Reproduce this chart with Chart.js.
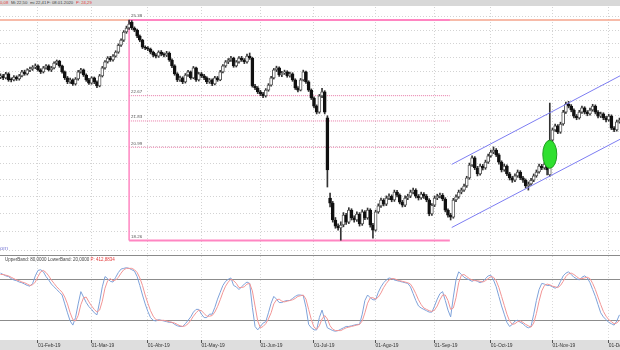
<!DOCTYPE html>
<html><head><meta charset="utf-8">
<script src="https://cdn.jsdelivr.net/npm/chart.js@4.4.1/dist/chart.umd.min.js"></script>
<style>
html,body{margin:0;padding:0;background:#fff;width:620px;height:350px;overflow:hidden;font-family:"Liberation Sans",Arial,sans-serif;}
#hdr{position:absolute;left:0;top:0;width:620px;height:6px;background:#d8d8d8;}
#xband{position:absolute;left:0;top:340px;width:620px;height:10px;background:#dedede;}
#sep{position:absolute;left:0;top:255px;width:620px;height:1px;background:#8a8a8a;}
canvas{position:absolute;left:0;}
#main{top:7px;}
#sub{top:256px;}
.t{position:absolute;white-space:nowrap;line-height:1;transform:scale(0.5);transform-origin:0 0;color:#444;font-size:8.5px;}
.r{color:#e23a3a;}
</style></head>
<body>
<div id="hdr"></div>
<div id="xband"></div>
<canvas id="main" width="620" height="248"></canvas>
<canvas id="sub" width="620" height="94"></canvas>
<div id="sep"></div>
<div class="t r" style="left:0;top:0.3px">0,08</div>
<div class="t" style="left:11px;top:0.3px">Mi 22,50</div>
<div class="t" style="left:30px;top:0.3px">mi 22,41</div>
<div class="t" style="left:47px;top:0.3px">F: 08.01.2020</div>
<div class="t r" style="left:76px;top:0.3px">P: 24,29</div>
<div class="t" style="left:0;top:244.5px;font-size:11.5px;color:#7b7bd6">om</div>
<div class="t" style="left:5px;top:256.5px;font-size:9px">UpperBand: 80,0000 LowerBand: 20,0000 <span class="r">P: 412,8834</span></div>
<script>
// ---- data ----
const monthIdx = [14,34,55,75,97,117,140,162,183,206,227];
const monthLabels = ['01-Feb-19','01-Mar-19','01-Abr-19','01-May-19','01-Jun-19','01-Jul-19','01-Ago-19','01-Sep-19','01-Oct-19','01-Nov-19','01-Dec-19'];

const opens = [
23.30,23.35,23.28,23.42,23.24,23.21,23.31,23.24,23.35,23.49,
23.42,23.56,23.59,23.66,23.70,23.56,23.49,23.63,23.70,23.56,
23.63,23.80,23.87,23.70,23.49,23.28,23.14,23.21,23.07,23.24,
23.49,23.56,23.38,23.21,23.10,23.28,23.14,23.00,23.35,23.63,
23.84,23.98,23.91,24.05,24.19,24.44,24.63,24.93,25.08,25.30,
25.08,25.00,24.78,24.63,24.37,24.34,24.30,24.19,24.08,24.05,
24.19,24.12,24.08,24.16,23.91,23.70,23.42,23.21,23.28,23.14,
23.38,23.49,23.28,23.63,23.21,23.42,23.35,23.28,23.14,23.21,
23.07,23.28,23.21,23.49,23.70,23.84,23.91,23.98,23.70,23.84,
23.98,23.91,23.84,24.05,23.98,23.00,22.93,22.80,22.73,22.66,
22.86,23.03,23.28,23.56,23.63,23.38,23.45,23.49,23.35,23.42,
23.21,22.93,22.86,23.21,23.49,23.14,22.86,22.59,22.32,22.12,
22.66,22.80,21.93,19.46,19.31,18.83,18.66,18.61,18.69,18.97,
18.77,19.11,18.89,18.83,19.00,18.72,19.06,18.89,19.11,18.69,
18.55,19.06,19.23,19.40,19.28,19.46,19.51,19.40,19.63,19.54,
19.34,19.25,19.46,19.51,19.63,19.69,19.51,19.46,19.57,19.51,
19.40,19.00,19.25,19.46,19.51,19.54,19.43,19.11,18.97,18.91,
19.40,19.49,19.63,19.69,19.81,20.05,20.44,20.66,20.35,20.17,
20.41,20.35,20.53,20.72,20.84,20.90,20.75,20.53,20.29,20.41,
20.17,20.05,19.98,20.11,20.23,20.05,19.98,19.81,19.87,19.98,
20.11,20.23,20.41,20.35,20.47,20.14,21.21,21.54,21.67,21.47,
21.73,22.12,22.39,22.32,22.19,21.99,21.93,22.12,22.26,22.12,
22.06,22.19,22.32,22.12,21.99,22.06,21.93,21.86,21.99,21.60,
21.54,21.80];

const highs = [
23.42,23.40,23.47,23.46,23.28,23.36,23.35,23.40,23.54,23.55,
23.60,23.66,23.71,23.77,23.74,23.60,23.68,23.75,23.74,23.68,
23.84,23.91,23.90,23.73,23.52,23.33,23.27,23.25,23.29,23.54,
23.61,23.59,23.42,23.26,23.32,23.31,23.18,23.40,23.68,23.89,
24.03,24.04,24.10,24.24,24.49,24.68,24.98,25.15,25.38,25.36,
25.12,25.04,24.82,24.66,24.42,24.39,24.34,24.23,24.14,24.24,
24.25,24.17,24.22,24.20,23.95,23.74,23.46,23.34,23.32,23.43,
23.54,23.52,23.68,23.66,23.47,23.47,23.40,23.32,23.26,23.25,
23.33,23.33,23.54,23.75,23.89,23.96,24.04,24.01,23.89,24.03,
24.04,23.96,24.12,24.16,24.01,23.06,22.98,22.85,22.78,22.91,
23.08,23.33,23.61,23.69,23.67,23.51,23.55,23.53,23.48,23.46,
23.25,22.98,23.26,23.55,23.52,23.18,22.90,22.63,22.36,22.71,
22.92,22.84,22.00,19.60,19.36,18.90,18.72,18.78,19.04,19.02,
19.18,19.15,18.95,19.06,19.04,19.12,19.10,19.17,19.15,18.74,
19.11,19.29,19.46,19.44,19.52,19.58,19.55,19.69,19.68,19.58,
19.39,19.52,19.57,19.69,19.75,19.73,19.56,19.63,19.62,19.56,
19.44,19.30,19.52,19.57,19.60,19.59,19.47,19.15,19.02,19.45,
19.55,19.69,19.75,19.87,20.10,20.50,20.72,20.70,20.40,20.47,
20.46,20.59,20.78,20.90,21.00,20.95,20.79,20.57,20.47,20.45,
20.22,20.10,20.17,20.29,20.27,20.10,20.02,19.93,20.04,20.17,
20.29,20.47,20.46,20.53,20.51,22.42,21.60,21.73,21.71,21.79,
22.18,22.45,22.48,22.37,22.23,22.04,22.18,22.32,22.30,22.17,
22.25,22.38,22.36,22.17,22.12,22.10,21.98,22.05,22.03,21.65,
21.86,21.92];

const lows = [
23.25,23.22,23.24,23.16,23.14,23.17,23.19,23.20,23.31,23.37,
23.38,23.50,23.54,23.60,23.51,23.43,23.45,23.58,23.52,23.50,
23.59,23.74,23.65,23.44,23.22,23.08,23.09,23.02,23.03,23.20,
23.44,23.33,23.16,23.05,23.06,23.08,22.94,22.97,23.31,23.58,
23.80,23.86,23.87,24.01,24.15,24.40,24.58,24.88,25.03,25.02,
24.94,24.72,24.57,24.32,24.28,24.24,24.13,24.02,23.98,24.00,
24.06,24.02,24.03,23.86,23.64,23.37,23.15,23.16,23.08,23.10,
23.33,23.23,23.25,23.16,23.17,23.29,23.22,23.08,23.09,23.01,
23.04,23.16,23.18,23.45,23.65,23.78,23.86,23.65,23.66,23.80,
23.86,23.78,23.80,23.93,22.96,22.87,22.74,22.67,22.60,22.62,
22.82,22.99,23.24,23.50,23.33,23.32,23.40,23.30,23.30,23.16,
22.88,22.80,22.83,23.17,23.09,22.81,22.54,22.26,22.06,22.08,
22.60,22.06,19.78,19.20,18.77,18.60,18.55,18.27,18.64,18.71,
18.73,18.83,18.77,18.79,18.66,18.68,18.84,18.85,18.63,18.33,
18.52,19.02,19.19,19.23,19.24,19.41,19.35,19.36,19.49,19.29,
19.20,19.21,19.41,19.47,19.58,19.46,19.40,19.42,19.45,19.35,
18.95,18.96,19.21,19.41,19.46,19.38,19.06,18.91,18.83,18.88,
19.35,19.45,19.58,19.65,19.77,20.01,20.40,20.30,20.11,20.13,
20.29,20.31,20.49,20.68,20.79,20.70,20.47,20.23,20.25,20.12,
19.99,19.92,19.94,20.07,20.00,19.92,19.75,19.69,19.83,19.94,
20.07,20.19,20.30,20.31,20.14,20.10,21.17,21.49,21.42,21.43,
21.69,22.08,22.26,22.13,21.93,21.87,21.89,22.08,22.06,22.00,
22.02,22.15,22.06,21.93,21.94,21.87,21.80,21.82,21.55,21.48,
21.50,21.76];

const closes = [
23.35,23.28,23.42,23.21,23.21,23.31,23.24,23.35,23.49,23.42,
23.56,23.59,23.66,23.70,23.56,23.49,23.63,23.70,23.56,23.63,
23.80,23.87,23.70,23.49,23.28,23.14,23.21,23.07,23.24,23.49,
23.56,23.38,23.21,23.10,23.28,23.14,23.00,23.35,23.63,23.84,
23.98,23.91,24.05,24.19,24.44,24.63,24.93,25.08,25.23,25.08,
25.00,24.78,24.63,24.37,24.34,24.30,24.19,24.08,24.05,24.19,
24.12,24.08,24.16,23.91,23.70,23.42,23.21,23.28,23.14,23.38,
23.49,23.28,23.63,23.21,23.42,23.35,23.28,23.14,23.21,23.07,
23.28,23.21,23.49,23.70,23.84,23.91,23.98,23.70,23.84,23.98,
23.91,23.84,24.05,23.98,23.00,22.93,22.80,22.73,22.66,22.86,
23.03,23.28,23.56,23.63,23.38,23.45,23.49,23.35,23.42,23.21,
22.93,22.86,23.21,23.49,23.14,22.86,22.59,22.32,22.12,22.66,
22.80,22.12,20.29,19.31,18.83,18.66,18.61,18.69,18.97,18.77,
19.11,18.89,18.83,19.00,18.72,19.06,18.89,19.11,18.69,18.55,
19.06,19.23,19.40,19.28,19.46,19.51,19.40,19.63,19.54,19.34,
19.25,19.46,19.51,19.63,19.69,19.51,19.46,19.57,19.51,19.40,
19.00,19.25,19.46,19.51,19.54,19.43,19.11,18.97,18.91,19.40,
19.49,19.63,19.69,19.81,20.05,20.44,20.66,20.35,20.17,20.41,
20.35,20.53,20.72,20.84,20.90,20.75,20.53,20.29,20.41,20.17,
20.05,19.98,20.11,20.23,20.05,19.98,19.81,19.87,19.98,20.11,
20.23,20.41,20.35,20.47,20.29,21.21,21.54,21.67,21.47,21.73,
22.12,22.39,22.32,22.19,21.99,21.93,22.12,22.26,22.12,22.06,
22.19,22.32,22.12,21.99,22.06,21.93,21.86,21.99,21.60,21.54,
21.80,21.86];

// stochastic %K (blue) and %D (red)
const kValues = [
90,88,86,85,82,80,79,77,76,74, 72,71,75,86,94,95,92,85,80,74,
70,66,62,58,45,32,20,14,25,45, 63,55,47,41,37,32,29,48,70,85,
82,78,77,84,91,96,97,98,97,95, 93,85,72,58,45,34,25,21,20,22,
21,20,19,18,18,15,13,12,12,16, 21,26,33,37,37,30,25,25,30,30,
40,52,62,72,78,81,83,72,70,66, 70,74,77,75,40,12,7,12,17,19,
32,46,56,52,47,47,49,50,50,53, 56,58,58,57,40,15,10,7,7,25,
36,22,10,8,6,5,6,8,10,12, 12,13,14,15,15,30,50,58,54,51,
51,62,70,76,80,83,82,80,79,78, 77,76,75,70,60,50,42,39,37,35,
33,33,42,52,60,63,50,36,26,55, 80,92,88,84,82,80,78,80,78,76,
78,82,86,87,80,70,56,42,30,18, 12,15,20,21,18,16,12,10,12,30,
50,66,75,74,72,72,70,68,70,78, 86,90,92,88,84,82,80,84,86,83,
76,66,56,44,32,26,22,18,16,14, 20,29];
const dValues = [
88,88,87,86,84,82,80,79,77,76, 74,72,73,77,85,92,94,91,86,80,
75,70,66,62,55,45,32,22,20,28, 44,54,55,48,42,37,33,36,49,68,
79,82,79,80,84,90,95,97,97,97, 95,91,83,72,58,46,35,27,22,21,
21,21,20,19,18,17,15,13,12,13, 16,21,27,32,36,35,31,27,27,28,
33,41,51,62,71,77,81,79,75,69, 69,70,74,75,64,42,20,10,12,16,
23,32,45,51,52,49,48,49,50,51, 53,56,57,58,52,37,22,11,8,13,
23,28,23,13,8,6,6,6,8,10, 11,12,13,14,15,20,32,46,54,54,
52,55,61,69,75,80,82,82,80,79, 78,77,76,74,68,60,51,44,39,37,
35,34,36,42,51,58,58,50,37,39, 54,76,87,88,85,82,80,79,79,78,
77,79,82,85,84,79,69,56,43,30, 20,15,16,19,20,18,15,13,11,17,
31,49,64,72,74,73,71,70,69,72, 78,85,89,90,88,85,82,82,83,84,
82,75,66,55,44,34,27,22,19,16, 17,21];

const gridPrices = [18,18.5,19,19.5,20,20.5,21,21.5,22,22.5,23,23.5,24,24.5,25,25.5];
const fibLevels = [25.38,22.67,21.83,20.99,18.26];
const fibStartIdx = 48;
const fibEndIdx = 167.7;
const channelUpper = [[168.4,20.46],[231.2,23.35]];
const channelLower = [[168.4,18.62],[231.2,21.24]];
const ellipseAt = [205.0,20.77];
const bandLevels = [20,80];

// ---- chart ----
const FONT = '"Liberation Sans", Arial, sans-serif';
Chart.defaults.font.family = FONT;
const xMin = -0.18, xMax = 231.2;
const idx = closes.map((_, i) => i);
const wickData = idx.map(i => ({x: i, y: [lows[i], highs[i]]}));
const bodyData = idx.map(i => ({x: i, y: [Math.min(opens[i], closes[i]), Math.max(opens[i], closes[i])]}));
const bodyFill = idx.map(i => closes[i] >= opens[i] ? '#ffffff' : '#111111');
const bodyEdge = idx.map(i => closes[i] >= opens[i] ? '#5a5a5a' : '#111111');
const seg = (a, b) => [{x: a[0], y: a[1]}, {x: b[0], y: b[1]}];
const lineDs = (data, color, width, order, dash) => ({type: 'line', data, borderColor: color, borderWidth: width, pointRadius: 0, borderDash: dash || [], tension: 0, order, fill: false});

const annot = {
  id: 'annot',
  afterDatasetsDraw(chart) {
    const {ctx, scales: {x, y}} = chart;
    ctx.save();
    const cx = x.getPixelForValue(ellipseAt[0]), cy = y.getPixelForValue(ellipseAt[1]);
    ctx.beginPath();
    ctx.ellipse(cx, cy, 7, 14, 0, 0, Math.PI * 2);
    ctx.fillStyle = '#2fe02f'; ctx.fill();
    ctx.strokeStyle = '#1f9f1f'; ctx.lineWidth = 1; ctx.stroke();
    ctx.font = '4.4px ' + FONT;
    ctx.fillStyle = '#555';
    ctx.textBaseline = 'bottom';
    fibLevels.forEach(v => ctx.fillText(v.toFixed(2), x.getPixelForValue(fibStartIdx) + 2, y.getPixelForValue(v) - 1.5));
    ctx.restore();
  }
};

const pink = '#ff86c2';
new Chart(document.getElementById('main'), {
  type: 'bar',
  data: {datasets: [
    lineDs(seg([xMin, fibLevels[0]], [xMax, fibLevels[0]]), '#f4a58c', 1.5, 9),
    lineDs(seg([fibStartIdx, fibLevels[0]], [fibEndIdx, fibLevels[0]]), pink, 2, 8),
    lineDs(seg([fibStartIdx, fibLevels[4]], [fibEndIdx, fibLevels[4]]), pink, 2, 8),
    lineDs(seg([fibStartIdx, fibLevels[0]], [fibStartIdx, fibLevels[4]]), pink, 1.5, 8),
    lineDs(seg([fibStartIdx, fibLevels[1]], [fibEndIdx, fibLevels[1]]), '#e87aa8', 1, 8, [1, 1]),
    lineDs(seg([fibStartIdx, fibLevels[2]], [fibEndIdx, fibLevels[2]]), '#e87aa8', 1, 8, [1, 1]),
    lineDs(seg([fibStartIdx, fibLevels[3]], [fibEndIdx, fibLevels[3]]), '#e87aa8', 1, 8, [1, 1]),
    {type: 'bar', data: wickData, backgroundColor: '#333333', borderWidth: 0, barThickness: 1, grouped: false, order: 5},
    {type: 'bar', data: bodyData, backgroundColor: bodyFill, borderColor: bodyEdge, borderWidth: 1, borderSkipped: false, barThickness: 3, grouped: false, order: 4},
    lineDs(seg(channelUpper[0], channelUpper[1]), '#7d7df2', 1, 1),
    lineDs(seg(channelLower[0], channelLower[1]), '#7d7df2', 1, 1)
  ]},
  options: {
    responsive: false, animation: false, devicePixelRatio: 1, indexAxis: 'x',
    layout: {padding: 0, autoPadding: false},
    plugins: {legend: {display: false}, tooltip: {enabled: false}},
    scales: {
      x: {type: 'linear', min: xMin, max: xMax, bounds: 'data', offset: false,
        ticks: {display: false},
        grid: {offset: false, color: '#d3d3d3', drawTicks: false},
        border: {display: false, dash: [1, 2]},
        afterBuildTicks: s => { s.ticks = monthIdx.map(v => ({value: v})); }},
      y: {type: 'logarithmic', min: 17.872, max: 25.877, bounds: 'data', beginAtZero: false,
        ticks: {display: false},
        grid: {color: '#d3d3d3', drawTicks: false},
        border: {display: false, dash: [1, 2]},
        afterBuildTicks: s => { s.ticks = gridPrices.map(v => ({value: v})); }}
    }
  },
  plugins: [annot]
});

new Chart(document.getElementById('sub'), {
  type: 'line',
  data: {datasets: [
    {data: dValues.map((v, i) => ({x: i, y: v})), borderColor: '#f29595', borderWidth: 1, pointRadius: 0, tension: 0, order: 1},
    {data: kValues.map((v, i) => ({x: i, y: v})), borderColor: '#7ea2da', borderWidth: 1, pointRadius: 0, tension: 0, order: 2}
  ]},
  options: {
    responsive: false, animation: false, devicePixelRatio: 1,
    layout: {padding: 0, autoPadding: false},
    plugins: {legend: {display: false}, tooltip: {enabled: false}},
    scales: {
      x: {type: 'linear', min: xMin, max: xMax, bounds: 'data', offset: false,
        afterBuildTicks: s => { s.ticks = monthIdx.map(v => ({value: v})); },
        afterFit: s => { s.height = 10; s.paddingLeft = 0; s.paddingRight = 0; },
        ticks: {autoSkip: false, maxRotation: 0, minRotation: 0, align: 'start', padding: 0,
          font: {size: 4.9, family: FONT}, color: '#333',
          callback: v => { const k = monthIdx.indexOf(v); return k >= 0 ? monthLabels[k] : ''; }},
        grid: {offset: false, color: '#dadada', drawTicks: true, tickLength: 3, tickColor: '#555', tickBorderDash: []},
        border: {display: false, dash: [1, 2]}},
      y: {type: 'linear', min: -7.8, max: 115.1, bounds: 'data',
        ticks: {display: false},
        grid: {color: '#8c8c8c', drawTicks: false},
        border: {display: false},
        afterBuildTicks: s => { s.ticks = bandLevels.map(v => ({value: v})); }}
    }
  }
});
</script>
</body></html>
